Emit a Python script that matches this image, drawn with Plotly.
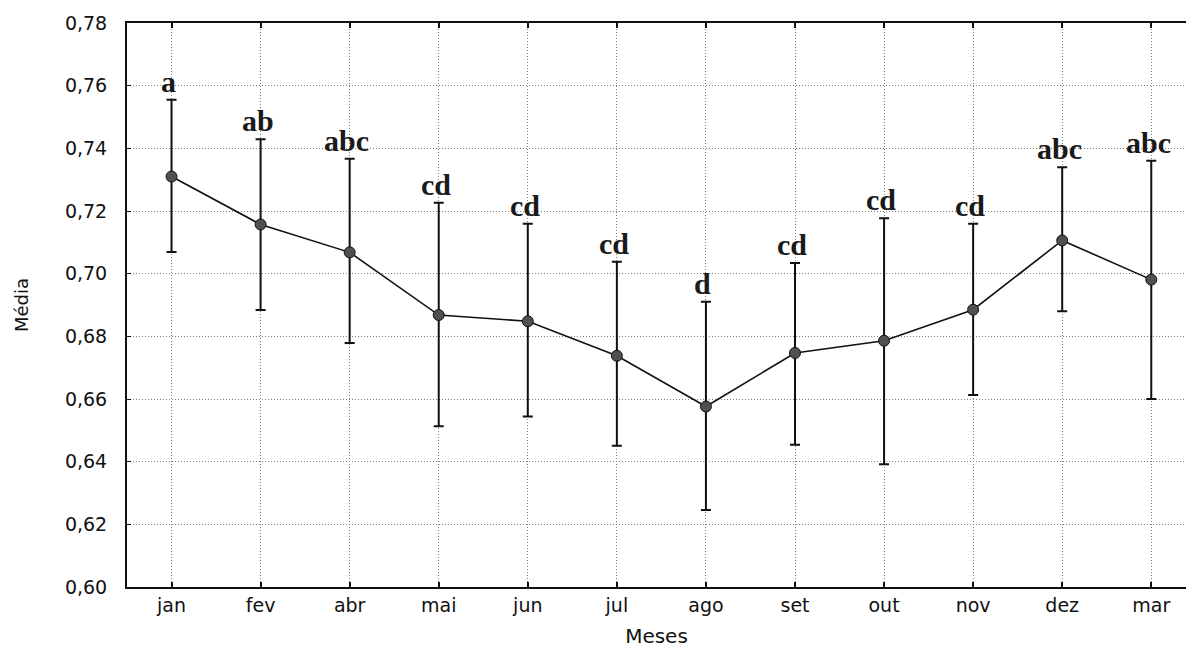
import plotly.graph_objects as go

# Monthly means with their interval limits
months = ["jan", "fev", "abr", "mai", "jun", "jul", "ago", "set", "out", "nov", "dez", "mar"]
mean = [0.7310, 0.7157, 0.7068, 0.6868, 0.6848, 0.6738, 0.6576, 0.6747, 0.6786, 0.6885, 0.7106, 0.6981]
upper = [0.7555, 0.7429, 0.7367, 0.7226, 0.7159, 0.7038, 0.6910, 0.7034, 0.7177, 0.7159, 0.7340, 0.7360]
lower = [0.7069, 0.6884, 0.6779, 0.6513, 0.6544, 0.6451, 0.6246, 0.6454, 0.6392, 0.6613, 0.6880, 0.6600]
groups = ["a", "ab", "abc", "cd", "cd", "cd", "d", "cd", "cd", "cd", "abc", "abc"]

y_ticks = [0.60, 0.62, 0.64, 0.66, 0.68, 0.70, 0.72, 0.74, 0.76, 0.78]

err_plus = [u - m for u, m in zip(upper, mean)]
err_minus = [m - l for m, l in zip(mean, lower)]

fig = go.Figure()
fig.add_trace(go.Scatter(
    x=list(range(len(months))),
    y=mean,
    mode="lines+markers",
    line=dict(color="#111111", width=1.6),
    marker=dict(symbol="circle", size=11, color="#505050",
                line=dict(color="#111111", width=1)),
    error_y=dict(type="data", symmetric=False, array=err_plus, arrayminus=err_minus,
                 color="#111111", thickness=2, width=5),
    showlegend=False,
))

# Group letters above each interval
for i, (g, u) in enumerate(zip(groups, upper)):
    fig.add_annotation(
        x=i, y=u, text=g, showarrow=False, xanchor="center", yanchor="bottom",
        xshift=-3, yshift=0,
        font=dict(family="Liberation Serif", size=30, color="#1a1a1a", weight="bold"),
    )

axis_font = dict(family="DejaVu Sans", size=19, color="#111111")
grid_dash = "1px,2px"

fig.update_layout(
    width=1186, height=648,
    margin=dict(l=127, r=0, t=23, b=61),
    paper_bgcolor="white", plot_bgcolor="white",
    separators=",.",
    font=axis_font,
    xaxis=dict(
        range=[-0.5, 11.39],
        tickmode="array", tickvals=list(range(len(months))), ticktext=months,
        showline=True, linecolor="#111111", linewidth=2, mirror="ticks",
        ticks="inside", ticklen=5, tickcolor="#111111", tickwidth=1.5,
        showgrid=True, gridcolor="#808080", gridwidth=1, griddash=grid_dash,
        tickfont=axis_font, ticklabelstandoff=0,
        title=dict(text="Meses", font=dict(family="DejaVu Sans", size=20, color="#111111"),
                   standoff=14),
        zeroline=False,
    ),
    yaxis=dict(
        range=[0.60, 0.78],
        tickmode="array", tickvals=y_ticks, tickformat=".2f",
        showline=True, linecolor="#111111", linewidth=2, mirror=False,
        ticks="inside", ticklen=4, tickcolor="#111111",
        showgrid=True, gridcolor="#808080", gridwidth=1, griddash=grid_dash,
        tickfont=axis_font, ticklabelstandoff=14,
        title=dict(text="Média", font=dict(family="DejaVu Sans", size=18, color="#111111"),
                   standoff=32),
        zeroline=False,
    ),
)

fig.write_html("out.html")
